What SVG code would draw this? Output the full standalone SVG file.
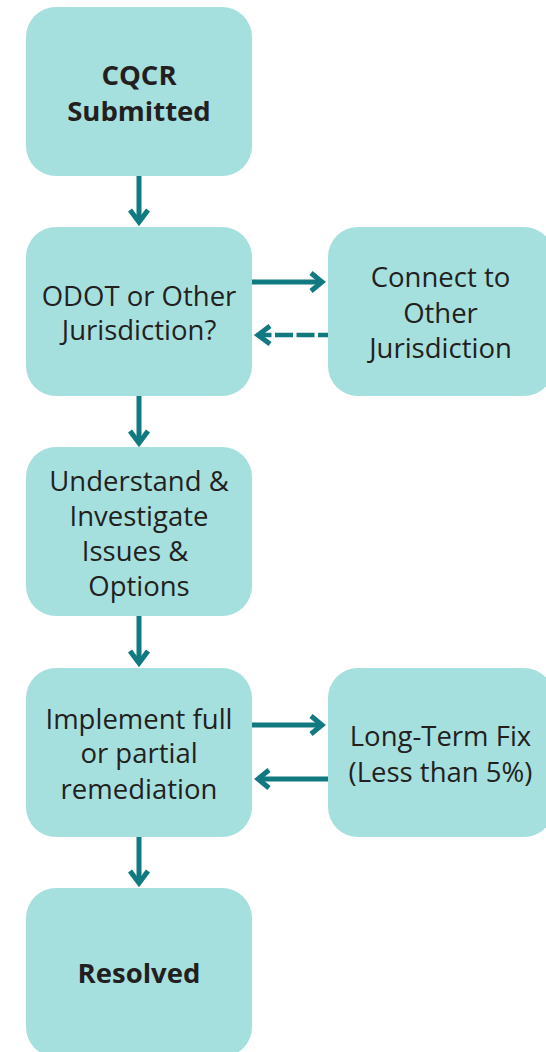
<svg xmlns="http://www.w3.org/2000/svg" width="546" height="1052" viewBox="0 0 546 1052">
<style>
.box{fill:#a6e0de;}
.t{font-family:"Open Sans","Noto Sans","DejaVu Sans",sans-serif;font-size:27.5px;fill:#231f20;text-anchor:middle;}
.b{font-weight:bold;}
.ln{fill:none;stroke:#117a80;stroke-width:5;}
.dash{stroke-width:4.5;stroke-dasharray:18 3.5;stroke-dashoffset:8;}
.hd{fill:none;stroke:#117a80;stroke-width:5;stroke-linejoin:miter;stroke-miterlimit:6;}
</style>
<rect width="546" height="1052" fill="#ffffff"/>
<g id="connectors">
  <path class="ln" d="M139,176 V222"/>
  <path class="hd" d="M130,210 L139,222 L148,210"/>
  <path class="ln" d="M139,396 V443"/>
  <path class="hd" d="M130,431 L139,443 L148,431"/>
  <path class="ln" d="M139,616 V663"/>
  <path class="hd" d="M130,651 L139,663 L148,651"/>
  <path class="ln" d="M139,837 V883"/>
  <path class="hd" d="M130,871 L139,883 L148,871"/>
  <path class="ln" d="M252,282 H322"/>
  <path class="hd" d="M311,273 L322,282 L311,291"/>
  <path class="ln dash" d="M328,335 H260"/>
  <path class="hd" d="M270,326 L258,335 L270,344"/>
  <path class="ln" d="M252,725 H322"/>
  <path class="hd" d="M311,716 L322,725 L311,734"/>
  <path class="ln" d="M328,779 H260"/>
  <path class="hd" d="M269,770 L258,779 L269,788"/>
</g>
<g id="n1">
  <rect class="box" x="26" y="7" width="226" height="169" rx="30"/>
  <text class="t b" x="139" y="85">CQCR</text>
  <text class="t b" x="139" y="120.7">Submitted</text>
</g>
<g id="n2">
  <rect class="box" x="26" y="227" width="226" height="169" rx="30"/>
  <text class="t" x="139" y="305.7">ODOT or Other</text>
  <text class="t" x="139" y="340">Jurisdiction?</text>
</g>
<g id="n3">
  <rect class="box" x="328" y="227" width="226" height="169" rx="30"/>
  <text class="t" x="440.5" y="287.3">Connect to</text>
  <text class="t" x="440.5" y="323.3">Other</text>
  <text class="t" x="440.5" y="358.3">Jurisdiction</text>
</g>
<g id="n4">
  <rect class="box" x="26" y="447" width="226" height="169" rx="30"/>
  <text class="t" x="139" y="490.7">Understand &amp;</text>
  <text class="t" x="139" y="526">Investigate</text>
  <text class="t" x="135" y="560.7">Issues &amp;</text>
  <text class="t" x="139" y="596">Options</text>
</g>
<g id="n5">
  <rect class="box" x="26" y="668" width="226" height="169" rx="30"/>
  <text class="t" x="139" y="729.3">Implement full</text>
  <text class="t" x="139" y="763.3">or partial</text>
  <text class="t" x="139" y="799">remediation</text>
</g>
<g id="n6">
  <rect class="box" x="328" y="668" width="226" height="169" rx="30"/>
  <text class="t" x="440.5" y="746">Long-Term Fix</text>
  <text class="t" x="440.5" y="781.7">(Less than 5%)</text>
</g>
<g id="n7">
  <rect class="box" x="26" y="888" width="226" height="169" rx="30"/>
  <text class="t b" x="139" y="983.3">Resolved</text>
</g>
</svg>
